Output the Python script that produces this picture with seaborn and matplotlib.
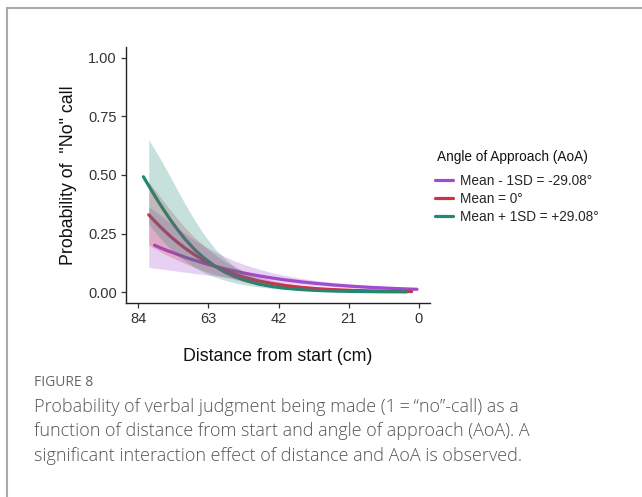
import numpy as np
import pandas as pd
import matplotlib
matplotlib.use("Agg")
import matplotlib.pyplot as plt
import seaborn as sns
from matplotlib.lines import Line2D

sns.set_theme(style="ticks")
plt.rcParams["font.family"] = ["Liberation Sans", "DejaVu Sans"]

# Predicted probabilities of a "No" call by distance, one curve per AoA level
groups = ["Mean - 1SD = -29.08°", "Mean = 0°", "Mean + 1SD = +29.08°"]
colors = ["#A14BD0", "#C8344A", "#1E8A73"]

# Mean - 1SD
dist_lo = [79.1, 76, 73, 70, 67, 64, 61, 58, 55, 52, 48, 44, 40, 35, 30, 25, 20, 15, 10, 5, 0.6]
prob_lo = [0.200, 0.181, 0.165, 0.149, 0.135, 0.122, 0.110, 0.0991, 0.0892, 0.0802, 0.0694,
           0.0600, 0.0518, 0.0431, 0.0357, 0.0296, 0.0245, 0.0202, 0.0167, 0.0138, 0.0117]
band_x_lo = [80.8, 78, 76, 73, 70, 67, 64, 61, 58, 55, 52, 48, 44, 40, 35, 30, 25, 20, 15, 10, 5, 0.6]
band_lower_lo = [0.105, 0.1000, 0.0965, 0.0905, 0.0847, 0.0789, 0.0736, 0.0685, 0.0637, 0.0593, 0.0547,
                 0.0485, 0.0431, 0.0378, 0.0320, 0.0267, 0.0221, 0.0179, 0.0145, 0.0116, 0.0092, 0.0075]
band_upper_lo = [0.365, 0.336, 0.313, 0.280, 0.250, 0.221, 0.196, 0.172, 0.151, 0.132, 0.116,
                 0.0983, 0.0831, 0.0706, 0.0578, 0.0476, 0.0395, 0.0334, 0.0282, 0.0240, 0.0207, 0.0182]

# Mean
dist_mid = [80.8, 78, 76, 74, 72, 70, 67, 64, 61, 58, 55, 52, 48, 44, 40, 35, 30, 25, 20, 15, 10, 5, 2.2]
prob_mid = [0.330, 0.288, 0.260, 0.234, 0.210, 0.188, 0.158, 0.132, 0.110, 0.0912, 0.0753, 0.0620,
            0.0476, 0.0365, 0.0278, 0.0198, 0.0140, 0.0099, 0.0070, 0.0050, 0.0035, 0.0025, 0.0020]
band_x_mid = dist_mid
band_lower_mid = [0.200, 0.178, 0.162, 0.148, 0.135, 0.122, 0.105, 0.0886, 0.0748, 0.0630, 0.0527, 0.0440,
                  0.0345, 0.0270, 0.0210, 0.0152, 0.0109, 0.0077, 0.0054, 0.0037, 0.0026, 0.0018, 0.0014]
band_upper_mid = [0.470, 0.419, 0.381, 0.344, 0.309, 0.276, 0.232, 0.193, 0.159, 0.130, 0.106, 0.0865,
                  0.0653, 0.0490, 0.0368, 0.0258, 0.0181, 0.0129, 0.0092, 0.0066, 0.0048, 0.0035, 0.0029]

# Mean + 1SD
dist_hi = [82.4, 80, 78, 76, 74, 72, 70, 67, 64, 61, 58, 55, 52, 48, 44, 40, 35, 30, 25, 20, 15, 10, 3.7]
prob_hi = [0.4925, 0.435, 0.388, 0.344, 0.302, 0.263, 0.227, 0.180, 0.142, 0.110, 0.0847, 0.0648,
           0.0494, 0.0341, 0.0235, 0.0161, 0.0100, 0.0062, 0.0038, 0.0024, 0.0015, 0.0009, 0.0005]
band_x_hi = [80.8, 78, 76, 74, 72, 70, 67, 64, 61, 58, 55, 52, 48, 44, 40, 35, 30, 25, 20, 15, 10, 3.7]
band_lower_hi = [0.290, 0.240, 0.208, 0.180, 0.155, 0.133, 0.104, 0.0815, 0.0641, 0.0502, 0.0392, 0.0305,
                 0.0218, 0.0156, 0.0110, 0.0070, 0.0044, 0.0028, 0.0017, 0.0010, 0.0006, 0.0003]
band_upper_hi = [0.650, 0.585, 0.535, 0.483, 0.430, 0.378, 0.305, 0.240, 0.185, 0.142, 0.107, 0.0800,
                 0.0535, 0.0355, 0.0236, 0.0143, 0.0087, 0.0053, 0.0033, 0.0021, 0.0014, 0.0008]

x_ticks = [84, 63, 42, 21, 0]
y_ticks = [0.00, 0.25, 0.50, 0.75, 1.00]

lines = pd.concat([
    pd.DataFrame({"dist": dist_lo, "prob": prob_lo, "AoA": groups[0]}),
    pd.DataFrame({"dist": dist_mid, "prob": prob_mid, "AoA": groups[1]}),
    pd.DataFrame({"dist": dist_hi, "prob": prob_hi, "AoA": groups[2]}),
], ignore_index=True)
bands = [
    (band_x_lo, band_lower_lo, band_upper_lo),
    (band_x_mid, band_lower_mid, band_upper_mid),
    (band_x_hi, band_lower_hi, band_upper_hi),
]

fig = plt.figure(figsize=(6.42, 4.97), dpi=100)
ax = fig.add_axes([126 / 642, 1 - 303 / 497, 304 / 642, 256 / 497])

sns.lineplot(data=lines, x="dist", y="prob", hue="AoA", hue_order=groups,
             palette=colors, linewidth=2.3, sort=False, estimator=None,
             legend=False, ax=ax)
for (bx, blo, bup), c in zip(bands, colors):
    ax.fill_between(bx, blo, bup, color=c, alpha=0.25, linewidth=0, zorder=3)

ax.set_xlim(87.6, -3.3)
ax.set_ylim(-0.047, 1.047)
ax.set_xticks(x_ticks)
ax.set_xticklabels([str(t) for t in x_ticks])
ax.set_yticks(y_ticks)
ax.set_yticklabels([f"{t:.2f}" for t in y_ticks])
ax.tick_params(axis="both", labelsize=10.5, labelcolor="#333333", color="#333333",
               length=3.5, width=0.9, direction="out", pad=3)
sns.despine(ax=ax)
for s in ("left", "bottom"):
    ax.spines[s].set_linewidth(1.0)
    ax.spines[s].set_color("#222222")
ax.set_xlabel("Distance from start (cm)", fontsize=12.8, labelpad=16, color="#111111")
ax.set_ylabel("Probability of  \"No\" call", fontsize=12.8, labelpad=8, color="#111111")

# legend: title placed on its own, entries below
fig.text(437 / 642, 1 - 157 / 497, "Angle of Approach (AoA)", fontsize=9.8,
         color="#111111", ha="left", va="center")
handles = [Line2D([], [], color=c, linewidth=2.3) for c in colors]
leg = ax.legend(handles, groups, loc="upper left",
                bbox_to_anchor=(435 / 642, 1 - 174 / 497), bbox_transform=fig.transFigure,
                frameon=False, fontsize=9.8, handlelength=1.3,
                handletextpad=0.55, labelspacing=0.28, borderpad=0, borderaxespad=0)

# page frame and caption
fig.add_artist(Line2D([7 / 642, 7 / 642], [0, 1 - 8 / 497], transform=fig.transFigure,
                      color="#AAAAAA", linewidth=1.5))
fig.add_artist(Line2D([7 / 642, 1], [1 - 8 / 497, 1 - 8 / 497], transform=fig.transFigure,
                      color="#AAAAAA", linewidth=1.5))
cap_font = ["Open Sans", "DejaVu Sans"]
fig.text(34 / 642, 1 - 383 / 497, "FIGURE 8", fontsize=10, color="#666666",
         family=cap_font, va="center", ha="left")
caption = [
    "Probability of verbal judgment being made (1\u2009=\u2009\u201cno\u201d-call) as a",
    "function of distance from start and angle of approach (AoA). A",
    "significant interaction effect of distance and AoA is observed.",
]
for i, line in enumerate(caption):
    fig.text(34 / 642, 1 - (407 + 24.5 * i) / 497, line, fontsize=13.0, color="#555555",
             family=cap_font, va="center", ha="left", fontweight="light")

fig.savefig("out.png", dpi=100)
